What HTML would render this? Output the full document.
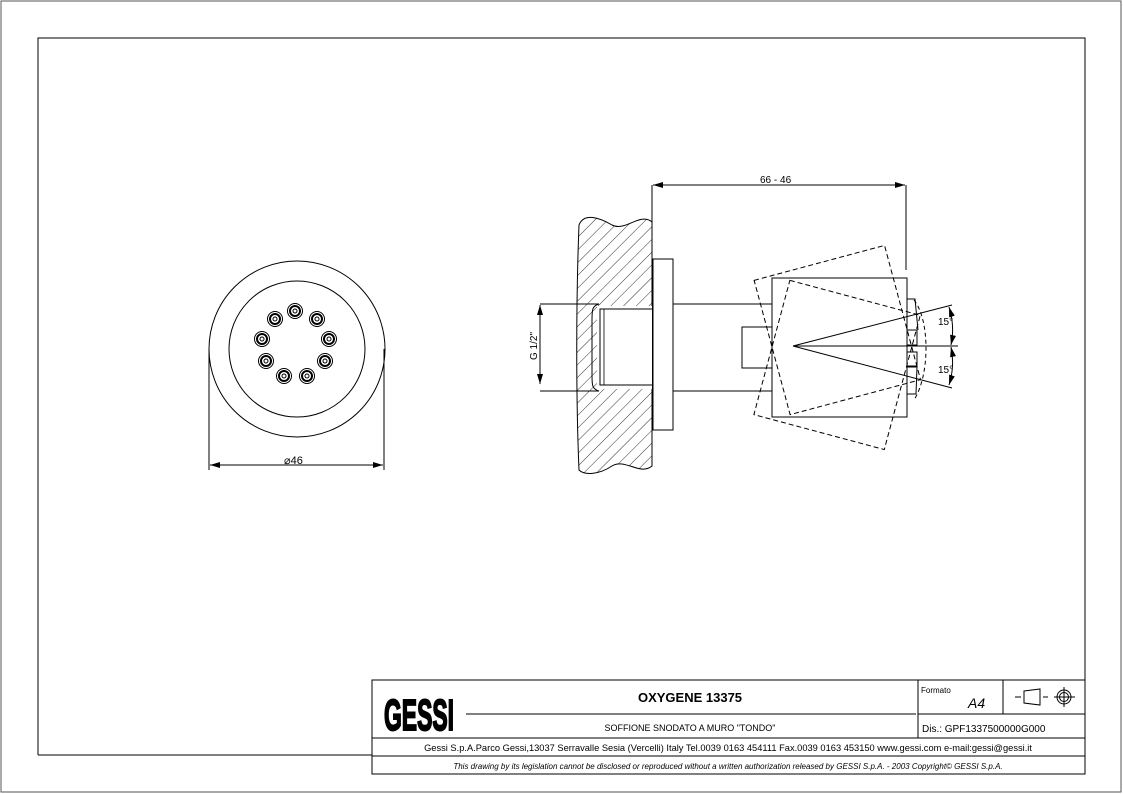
<!DOCTYPE html>
<html><head><meta charset="utf-8"><style>
html,body{margin:0;padding:0;background:#fff;}
svg{display:block;font-family:"Liberation Sans",sans-serif;}
</style></head><body>
<svg width="1123" height="794" viewBox="0 0 1123 794" xmlns="http://www.w3.org/2000/svg">
<defs>
<pattern id="h" patternUnits="userSpaceOnUse" width="9" height="9" patternTransform="rotate(45)">
<line x1="0" y1="0" x2="0" y2="9" stroke="#000" stroke-width="0.8"/>
</pattern>
<marker id="a" viewBox="0 0 10 6" refX="10" refY="3" markerWidth="10" markerHeight="6" orient="auto-start-reverse"><path d="M0,0 L10,3 L0,6 Z" fill="#000"/></marker>
<g id="n" fill="none" stroke="#000"><circle r="7.5" stroke-width="1"/><circle r="5" stroke-width="2"/><circle r="2" stroke-width="1"/></g>
</defs>
<rect x="1" y="1" width="1120" height="791" fill="none" stroke="#555" stroke-width="1"/>
<path d="M38,755 V38 H1085 V680" fill="none" stroke="#000" stroke-width="1"/>
<line x1="38" y1="755" x2="372" y2="755" stroke="#000"/>

<!-- left view -->
<g fill="none" stroke="#000" stroke-width="1">
<circle cx="297" cy="349" r="88"/>
<circle cx="297" cy="349" r="68"/>
<line x1="209" y1="349" x2="209" y2="470"/>
<line x1="384" y1="349" x2="384" y2="470"/>
<line x1="210" y1="465" x2="383" y2="465" marker-start="url(#a)" marker-end="url(#a)"/>
</g>
<use href="#n" x="295" y="311"/><use href="#n" x="275" y="319"/><use href="#n" x="317" y="319"/>
<use href="#n" x="262" y="339"/><use href="#n" x="329" y="339"/><use href="#n" x="266" y="361"/>
<use href="#n" x="325" y="361"/><use href="#n" x="284" y="376"/><use href="#n" x="307" y="376"/>
<text x="284" y="464" font-size="11">⌀46</text>

<!-- wall -->
<path d="M579,225 C584,212 600,218 612,225 C625,232 640,212 652,222 V466 C640,476 625,458 612,466 C600,474 585,476 579,470 C576,400 576,300 579,225 Z" fill="url(#h)" stroke="#000" stroke-width="1"/>
<rect x="597" y="306" width="55" height="83" fill="#fff" stroke="none"/>
<path d="M540,304 H599 C592,306 592,310 592,320 V375 C592,385 592,389 599,391 H540" fill="none" stroke="#000"/>
<path d="M652,309 H600 V385 H652" fill="none" stroke="#000"/>
<line x1="604" y1="309" x2="604" y2="385" stroke="#000" stroke-width="0.8"/>
<line x1="652" y1="185" x2="652" y2="222" stroke="#000"/>
<!-- flange -->
<rect x="653" y="259" width="20" height="171" fill="#fff" stroke="#000"/>
<line x1="673" y1="304" x2="772" y2="304" stroke="#000"/>
<line x1="673" y1="391" x2="772" y2="391" stroke="#000"/>
<rect x="742" y="327" width="30" height="41" fill="#fff" stroke="#000"/>
<rect x="772" y="278" width="135" height="139" fill="none" stroke="#000"/>
<g fill="none" stroke="#000" stroke-dasharray="5,3">
<rect x="772" y="278" width="135" height="139" transform="rotate(-15 772 347)"/>
<rect x="772" y="278" width="135" height="139" transform="rotate(15 772 347)"/>
</g>
<!-- nozzle face -->
<g fill="none" stroke="#000" stroke-width="1">
<path d="M907,299 H915 L918,330 M907,330 H917 V345 H907 M907,352 H917 V366 H907 M907,367 H917 L916,394 H907"/>
<path d="M914,300 C930,320 930,375 914,400" stroke-dasharray="4,3"/>
</g>
<!-- angle lines -->
<g stroke="#000" stroke-width="1" fill="none">
<line x1="793" y1="346" x2="952" y2="305"/>
<line x1="793" y1="346" x2="952" y2="388"/>
<line x1="793" y1="346" x2="958" y2="346"/>
<path d="M949,307 Q955,326 951,345" marker-start="url(#a)" marker-end="url(#a)"/>
<path d="M951,347 Q955,366 949,385" marker-start="url(#a)" marker-end="url(#a)"/>
<line x1="906" y1="185" x2="906" y2="270"/>
<line x1="653" y1="185" x2="905" y2="185" marker-start="url(#a)" marker-end="url(#a)"/>
<line x1="540" y1="305" x2="540" y2="384" marker-start="url(#a)" marker-end="url(#a)"/>
</g>
<text x="938" y="325" font-size="10">15°</text>
<text x="938" y="373" font-size="10">15°</text>
<text x="760" y="183" font-size="10">66 - 46</text>
<text transform="translate(537,360) rotate(-90)" font-size="10">G 1/2"</text>

<!-- title block -->
<g fill="none" stroke="#000" stroke-width="1">
<rect x="372" y="680" width="713" height="94"/>
<line x1="372" y1="738" x2="1085" y2="738"/>
<line x1="372" y1="756" x2="1085" y2="756"/>
<line x1="918" y1="680" x2="918" y2="738"/>
<line x1="918" y1="714" x2="1085" y2="714"/>
<line x1="1003" y1="680" x2="1003" y2="714"/>
<line x1="466" y1="714" x2="916" y2="714"/>
<path d="M1015,697 H1021 M1024,691 L1040,689 V705 L1024,703 Z" />
<path d="M1043,697 H1048" />
<circle cx="1064" cy="697" r="7"/><circle cx="1064" cy="697" r="4.5"/>
<line x1="1054" y1="697" x2="1075" y2="697"/><line x1="1064" y1="687" x2="1064" y2="707"/>
</g>
<text x="384" y="730" font-size="44" font-weight="bold" textLength="70" lengthAdjust="spacingAndGlyphs" stroke="#000" stroke-width="2">GESSI</text>
<text x="690" y="702" font-size="13" font-weight="bold" text-anchor="middle">OXYGENE 13375</text>
<text x="690" y="731" font-size="9" text-anchor="middle">SOFFIONE SNODATO A MURO "TONDO"</text>
<text x="921" y="693" font-size="8">Formato</text>
<text x="968" y="708" font-size="14" font-style="italic">A4</text>
<text x="922" y="732" font-size="10">Dis.: GPF1337500000G000</text>
<text x="728" y="751" font-size="9.3" text-anchor="middle">Gessi S.p.A.Parco Gessi,13037 Serravalle Sesia (Vercelli) Italy Tel.0039 0163 454111 Fax.0039 0163 453150 www.gessi.com e-mail:gessi@gessi.it</text>
<text x="728" y="769" font-size="8" font-style="italic" text-anchor="middle">This drawing by its legislation cannot be disclosed or reproduced without a written authorization released by GESSI S.p.A. - 2003 Copyright© GESSI S.p.A.</text>
</svg>
</body></html>
